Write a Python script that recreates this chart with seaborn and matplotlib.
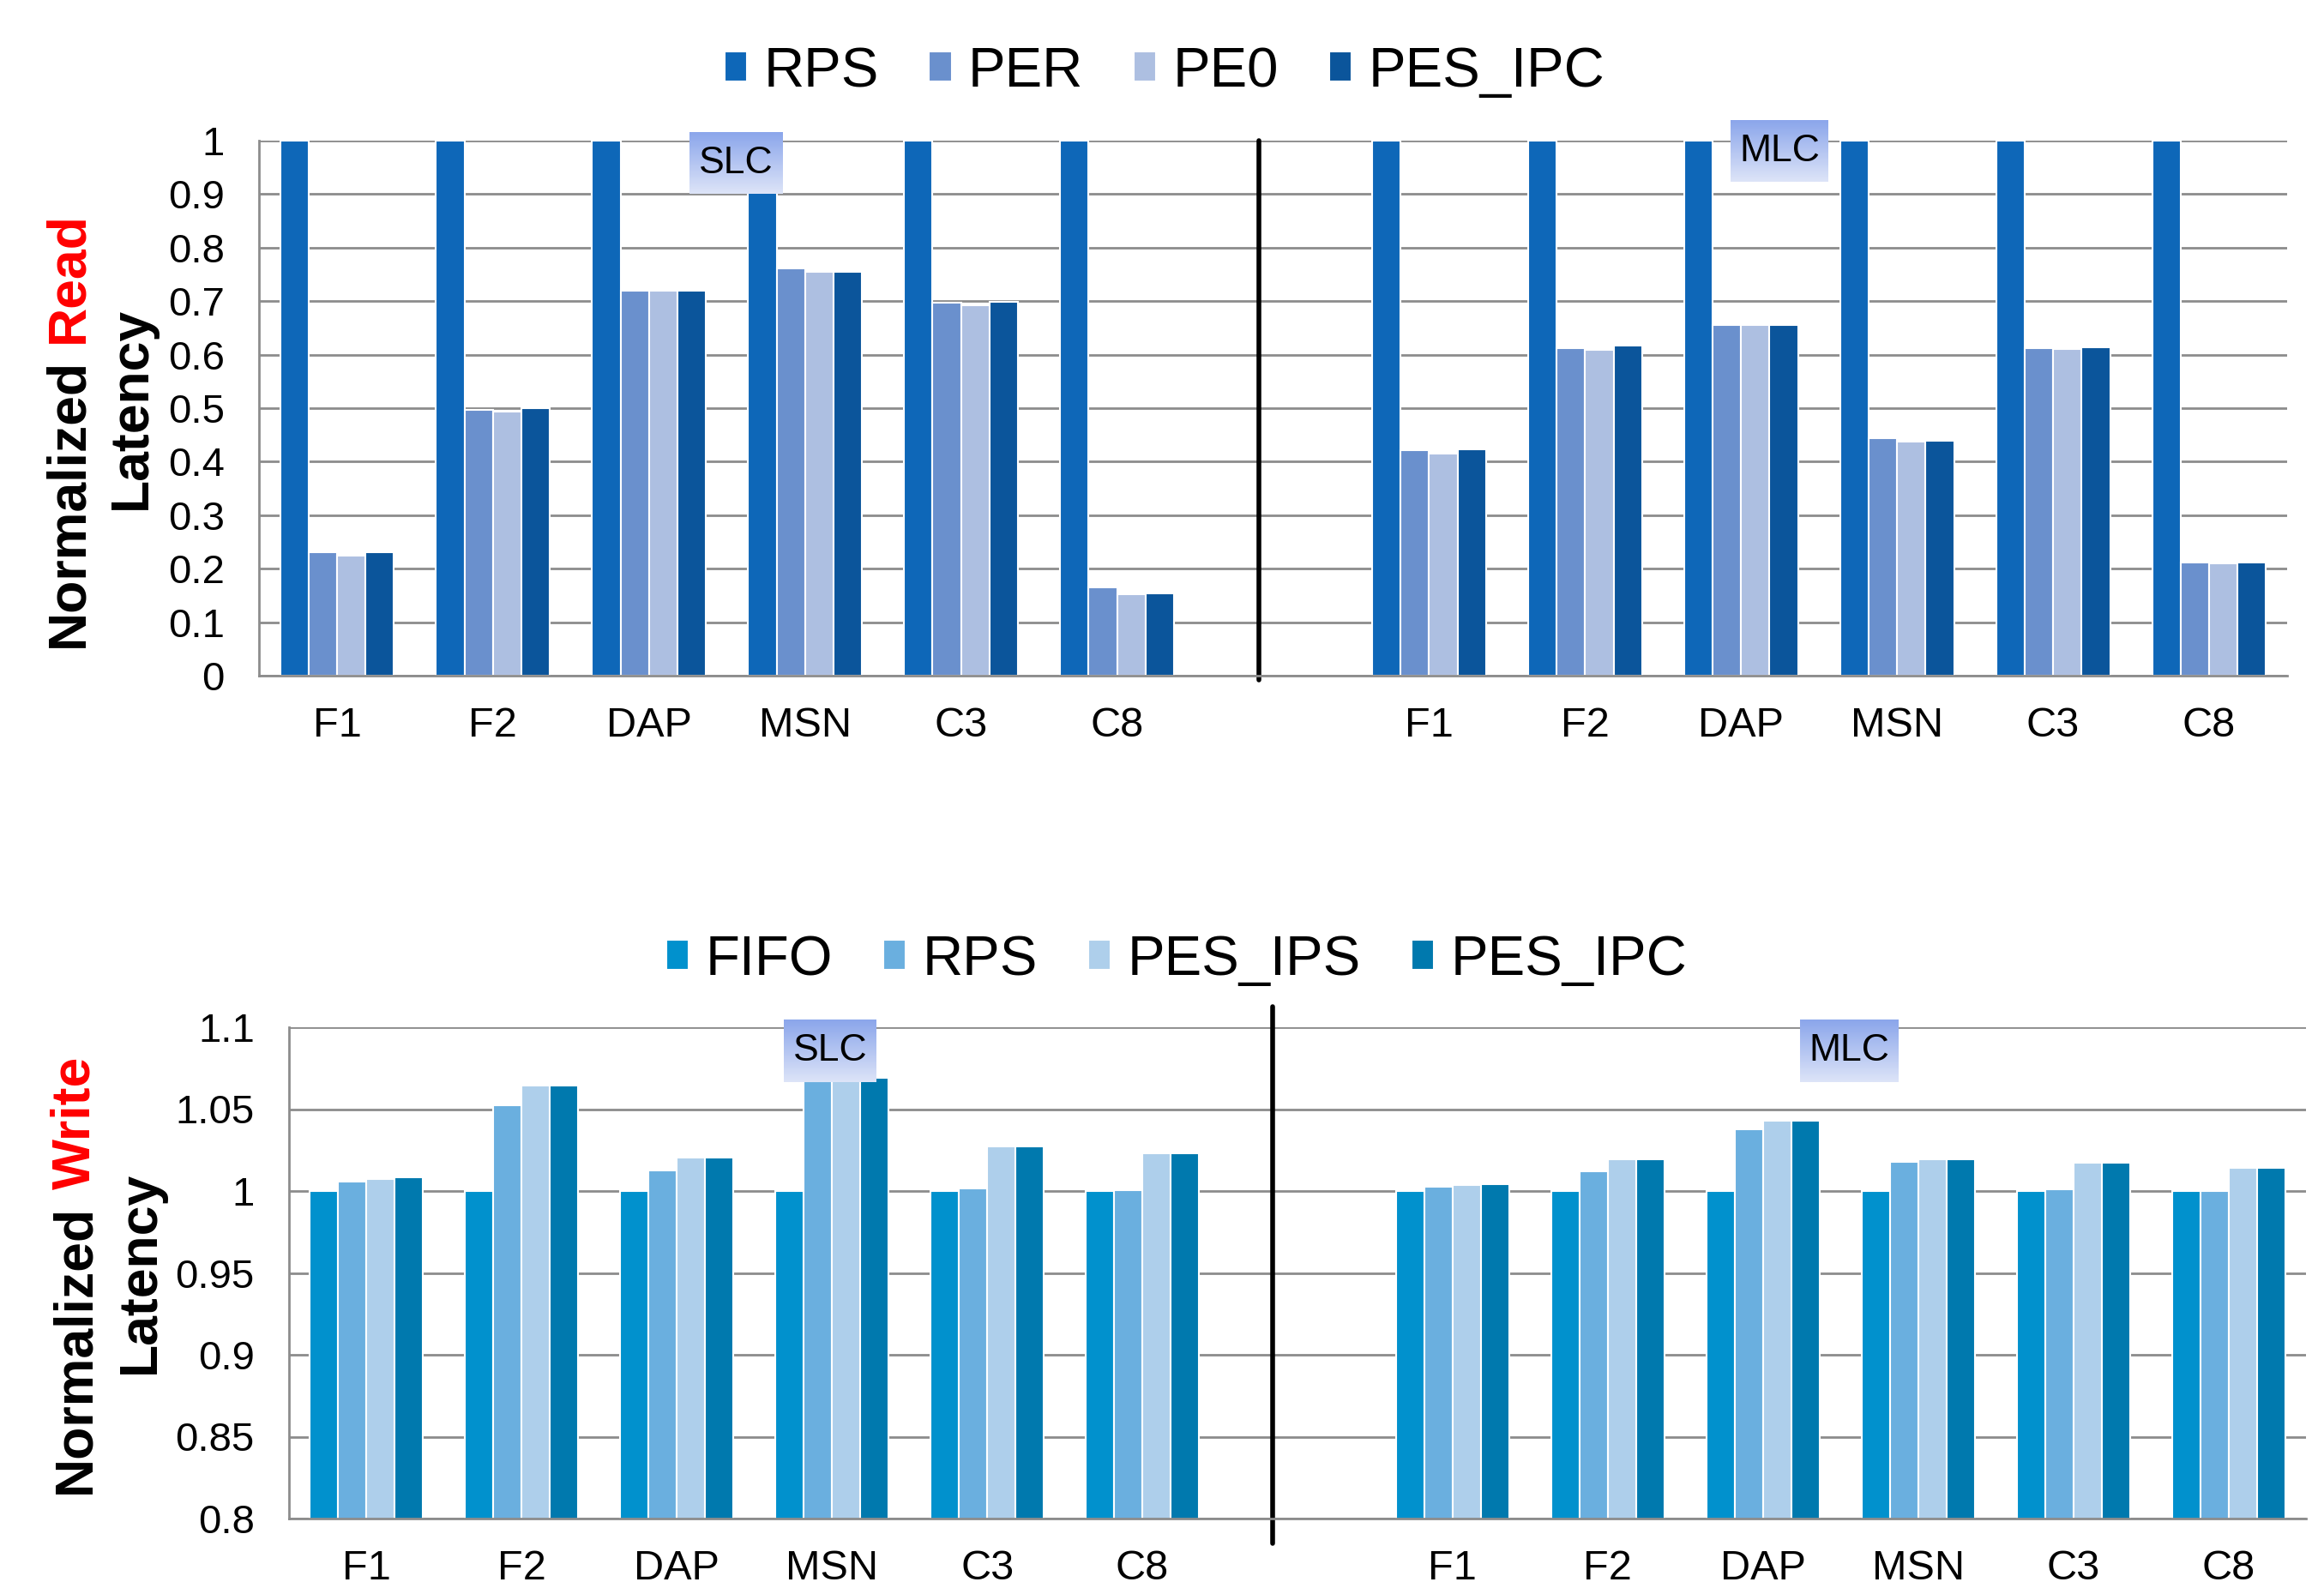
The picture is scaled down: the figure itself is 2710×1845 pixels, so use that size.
import numpy as np
import pandas as pd
import seaborn as sns
import matplotlib.pyplot as plt
from matplotlib.colors import LinearSegmentedColormap
from matplotlib.ticker import FuncFormatter, MultipleLocator

benchmarks = ['F1', 'F2', 'DAP', 'MSN', 'C3', 'C8']
cells = ['SLC', 'MLC']

# read latency, 6 SLC values then 6 MLC values
read_series = ['RPS', 'PER', 'PE0', 'PES_IPC']
read_rps = [1, 1, 1, 1, 1, 1, 1, 1, 1, 1, 1, 1]
read_per = [0.230, 0.497, 0.720, 0.761, 0.697, 0.165, 0.422, 0.612, 0.655, 0.444, 0.612, 0.211]
read_pe0 = [0.225, 0.494, 0.719, 0.755, 0.693, 0.153, 0.415, 0.609, 0.655, 0.438, 0.610, 0.210]
read_ipc = [0.231, 0.500, 0.719, 0.755, 0.699, 0.154, 0.423, 0.617, 0.655, 0.439, 0.613, 0.211]

# write latency
write_series = ['FIFO', 'RPS', 'PES_IPS', 'PES_IPC']
write_fifo = [1, 1, 1, 1, 1, 1, 1, 1, 1, 1, 1, 1]
write_rps = [1.0058, 1.0525, 1.0126, 1.067, 1.0014, 1.0005, 1.0025, 1.0118, 1.0379, 1.0179, 1.0011, 1.0002]
write_ips = [1.0074, 1.0646, 1.0203, 1.068, 1.0272, 1.0228, 1.0036, 1.0192, 1.0431, 1.0195, 1.0173, 1.014]
write_ipc = [1.0082, 1.0646, 1.0203, 1.069, 1.0272, 1.0228, 1.0041, 1.0192, 1.0431, 1.0195, 1.0173, 1.014]

read_colors = ['#0E67B8', '#6A90CD', '#ADBFE1', '#0B559B']
write_colors = ['#0191CD', '#6AAFDF', '#AECFEB', '#0079AE']

# one slot per bar group, with an empty slot between SLC and MLC
keys = [c + ' ' + b for c in cells for b in benchmarks]
order = keys[:6] + ['gap'] + keys[6:]
tick_labels = benchmarks + [''] + benchmarks


def long_df(series, columns):
    rows = []
    for s, vals in zip(series, columns):
        for k, v in zip(keys, vals):
            rows.append({'slot': k, 'series': s, 'value': v})
    return pd.DataFrame(rows)


df_read = long_df(read_series, [read_rps, read_per, read_pe0, read_ipc])
df_write = long_df(write_series, [write_fifo, write_rps, write_ips, write_ipc])

sns.set_style('white')
narrow = ['Liberation Sans Narrow', 'Liberation Sans', 'DejaVu Sans']
plt.rcParams['font.family'] = narrow
plt.rcParams['text.color'] = 'black'

W, H = 2710, 1845
fig = plt.figure(figsize=(W / 100, H / 100), dpi=100)


def px_axes(l, t, r, b):
    return fig.add_axes([l / W, 1 - b / H, (r - l) / W, (b - t) / H])


ax1 = px_axes(302, 164, 2667, 788)
ax2 = px_axes(337, 1198, 2689, 1771)

grid_c = '#8C8C8C'

for ax, df, ser, pal in [(ax1, df_read, read_series, read_colors),
                         (ax2, df_write, write_series, write_colors)]:
    sns.barplot(data=df, x='slot', y='value', hue='series', order=order,
                hue_order=ser, palette=pal, saturation=1, width=0.73,
                edgecolor='white', linewidth=1.5, errorbar=None, ax=ax)
    ax.set_xticks(range(len(order)))
    ax.set_xticklabels(tick_labels)
    ax.set_xlabel('')
    ax.set_ylabel('')
    ax.set_axisbelow(True)
    ax.yaxis.grid(True, color=grid_c, lw=2)
    for s in ['top', 'right']:
        ax.spines[s].set_visible(False)
    ax.spines['left'].set_color(grid_c)
    ax.spines['left'].set_linewidth(2)
    ax.spines['bottom'].set_color(grid_c)
    ax.spines['bottom'].set_linewidth(2)
    ax.tick_params(axis='y', length=10, width=2, color=grid_c, pad=19,
                   labelsize=34, labelcolor='black')
    ax.tick_params(axis='x', length=0, pad=26, labelsize=35, labelcolor='black')
    ax.yaxis.set_major_formatter(FuncFormatter(lambda v, p: '%g' % round(v, 3)))
    ax.get_legend().remove()

ax1.set_ylim(0, 1)
ax1.yaxis.set_major_locator(MultipleLocator(0.1))
ax2.set_ylim(0.8, 1.1)
ax2.yaxis.set_major_locator(MultipleLocator(0.05))

# SLC / MLC divider
ax1.axvline(5.91, ymin=-0.008, ymax=1, color='black', lw=4, clip_on=False)
ax2.axvline(5.84, ymin=-0.05, ymax=1.042, color='black', lw=4, clip_on=False)

# legends
for ax, cx, cy in [(ax1, 1358, 84), (ax2, 1372, 1120)]:
    h, l = ax.get_legend_handles_labels()
    ax.legend(h, l, ncol=4, loc='center', bbox_to_anchor=(cx / W, 1 - cy / H),
              bbox_transform=fig.transFigure, frameon=False, fontsize=47,
              handlelength=0.4, handleheight=0.45, handletextpad=0.3,
              columnspacing=0.9, labelcolor='black')

# y labels with a red word
bold = ['Liberation Sans', 'DejaVu Sans']
for ax, word, x1, x2, ybot, ymid in [(ax1, 'Read', 80, 153, 755, 476),
                                     (ax2, 'Write', 88, 163, 1742, 1484)]:
    t = fig.text(x1 / W, 1 - ybot / H, 'Normalized', rotation=90, ha='center',
                 va='bottom', fontsize=45, fontweight='bold', family=bold,
                 color='black')
    ax.annotate(word, xy=(0.5, 1), xycoords=t, xytext=(0, 18),
                textcoords='offset pixels', rotation=90, ha='center', va='bottom',
                color='red', fontsize=45, fontweight='bold', family=bold,
                annotation_clip=False)
    fig.text(x2 / W, 1 - ymid / H, 'Latency', rotation=90, ha='center',
             va='center', fontsize=45, fontweight='bold', family=bold,
             color='black')

# gradient tags
grad = LinearSegmentedColormap.from_list('tag', ['#DDE4F8', '#8BA6EB'])
for name, box in [('SLC', (804, 154, 912, 226)), ('MLC', (2018, 140, 2132, 212)),
                  ('SLC', (914, 1189, 1022, 1262)), ('MLC', (2099, 1189, 2214, 1262))]:
    tag = px_axes(*box)
    tag.imshow(np.linspace(0, 1, 64).reshape(-1, 1)[::-1], aspect='auto', cmap=grad,
               extent=(0, 1, 0, 1))
    tag.set_axis_off()
    tag.text(0.5, 0.5, name, ha='center', va='center', fontsize=32,
             color='black', transform=tag.transAxes)

fig.savefig('out.png', dpi=100)
